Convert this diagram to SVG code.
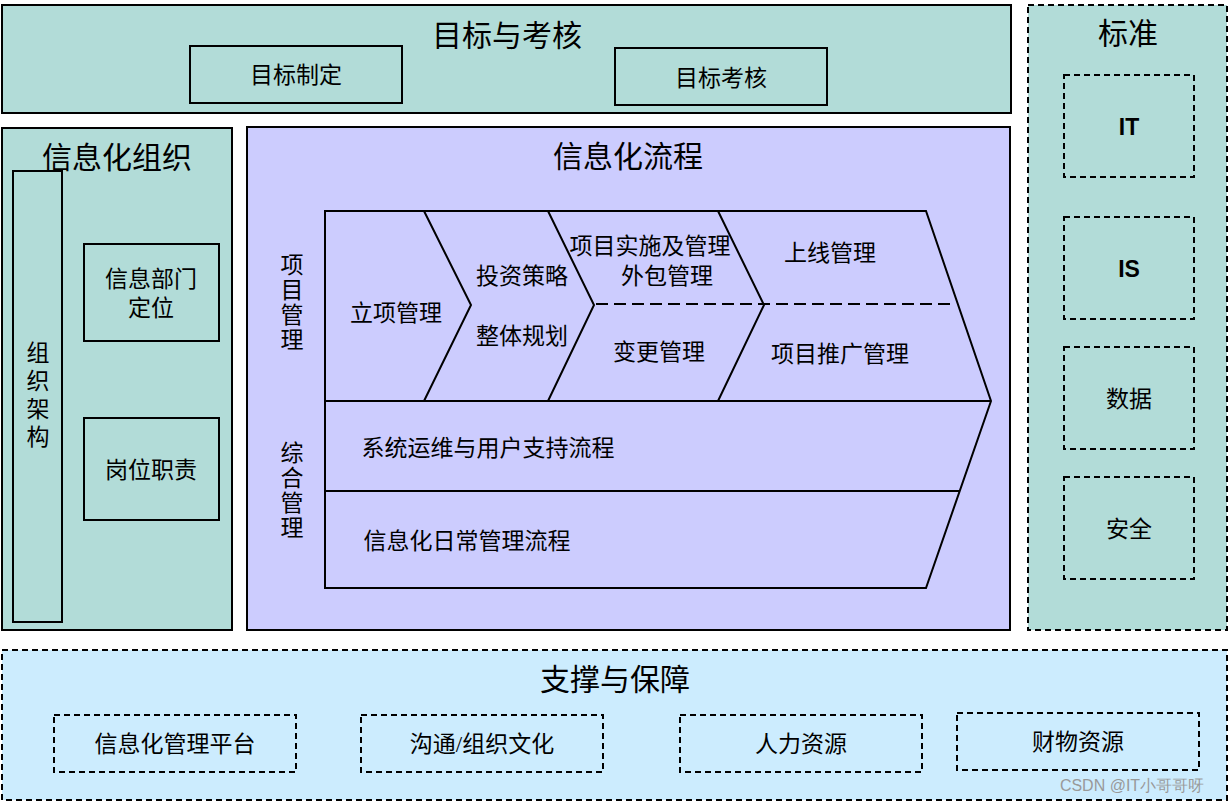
<svg xmlns="http://www.w3.org/2000/svg" width="1230" height="803" viewBox="0 0 1230 803">
<style>
text{font-family:"Liberation Serif","Noto Sans CJK SC",serif;fill:#000;text-anchor:middle}
.t{font-size:30px}.m{font-size:23px}.b{font-size:23px;font-weight:bold;font-family:"Liberation Sans","Noto Sans CJK SC",sans-serif}
.s{stroke:#000;stroke-width:2;fill:none}
.d{stroke:#000;stroke-width:2;fill:none;stroke-dasharray:6 4}
</style>
<rect width="1230" height="803" fill="#fff"/>
<g id="goal">
<rect x="2" y="5" width="1009" height="108" fill="#b2dcd8" class="s" style="fill:#b2dcd8"/>
<text x="507" y="46" class="t">目标与考核</text>
<rect x="190" y="46" width="212" height="57" class="s"/>
<text x="296" y="83" class="m">目标制定</text>
<rect x="615" y="48" width="212" height="57" class="s"/>
<text x="721" y="86" class="m">目标考核</text>
</g>
<g id="std">
<rect x="1028" y="5" width="199" height="625" class="d" style="fill:#b2dcd8"/>
<text x="1128" y="44" class="t">标准</text>
<rect x="1064" y="75" width="130" height="102" class="d"/><text x="1129" y="135" class="b">IT</text>
<rect x="1064" y="217" width="130" height="102" class="d"/><text x="1129" y="277" class="b">IS</text>
<rect x="1064" y="347" width="130" height="102" class="d"/><text x="1129" y="407" class="m">数据</text>
<rect x="1064" y="477" width="130" height="102" class="d"/><text x="1129" y="537" class="m">安全</text>
</g>
<g id="org">
<rect x="2" y="128" width="230" height="502" class="s" style="fill:#b2dcd8"/>
<text x="117" y="168" class="t">信息化组织</text>
<rect x="13" y="171" width="49" height="451" class="s"/>
<text x="38" y="361" class="m">组</text><text x="38" y="389" class="m">织</text><text x="38" y="417" class="m">架</text><text x="38" y="445" class="m">构</text>
<rect x="84" y="244" width="135" height="97" class="s"/>
<text x="151" y="287" class="m">信息部门</text><text x="151" y="316" class="m">定位</text>
<rect x="84" y="418" width="135" height="102" class="s"/>
<text x="151" y="478" class="m">岗位职责</text>
</g>
<g id="process">
<rect x="247" y="127" width="763" height="503" class="s" style="fill:#ccccfe"/>
<text x="628" y="167" class="t">信息化流程</text>
<text x="292" y="273" class="m">项</text><text x="292" y="298" class="m">目</text><text x="292" y="323" class="m">管</text><text x="292" y="348" class="m">理</text>
<text x="292" y="461" class="m">综</text><text x="292" y="486" class="m">合</text><text x="292" y="511" class="m">管</text><text x="292" y="536" class="m">理</text>
<path d="M325 211H926L991 401L926 588H325Z" class="s"/>
<path d="M325 401H991M325 491H959M424 211L471 305L424 401M548 211L594 305L548 401M718 211L764 305L718 401" class="s"/>
<path d="M596 304H956" class="d" style="stroke-dasharray:12 6"/>
<text x="396" y="321" class="m">立项管理</text>
<text x="522" y="284" class="m">投资策略</text>
<text x="522" y="344" class="m">整体规划</text>
<text x="650" y="254" class="m">项目实施及管理</text>
<text x="667" y="284" class="m">外包管理</text>
<text x="659" y="360" class="m">变更管理</text>
<text x="830" y="261" class="m">上线管理</text>
<text x="840" y="362" class="m">项目推广管理</text>
<text x="488" y="456" class="m" >系统运维与用户支持流程</text>
<text x="467" y="549" class="m">信息化日常管理流程</text>
</g>
<g id="support">
<rect x="2" y="650" width="1225" height="150" class="d" style="fill:#ccecfe"/>
<text x="615" y="690" class="t">支撑与保障</text>
<rect x="54" y="715" width="242" height="57" class="d"/><text x="175" y="752" class="m">信息化管理平台</text>
<rect x="361" y="715" width="242" height="57" class="d"/><text x="482" y="752" class="m">沟通/组织文化</text>
<rect x="680" y="715" width="242" height="57" class="d"/><text x="801" y="752" class="m">人力资源</text>
<rect x="957" y="713" width="242" height="57" class="d"/><text x="1078" y="750" class="m">财物资源</text>
</g>
<g id="connectors"></g>
<text x="1132" y="791" style="font-family:'Liberation Sans',sans-serif;font-size:16px;fill:#999">CSDN @IT小哥哥呀</text>
</svg>
